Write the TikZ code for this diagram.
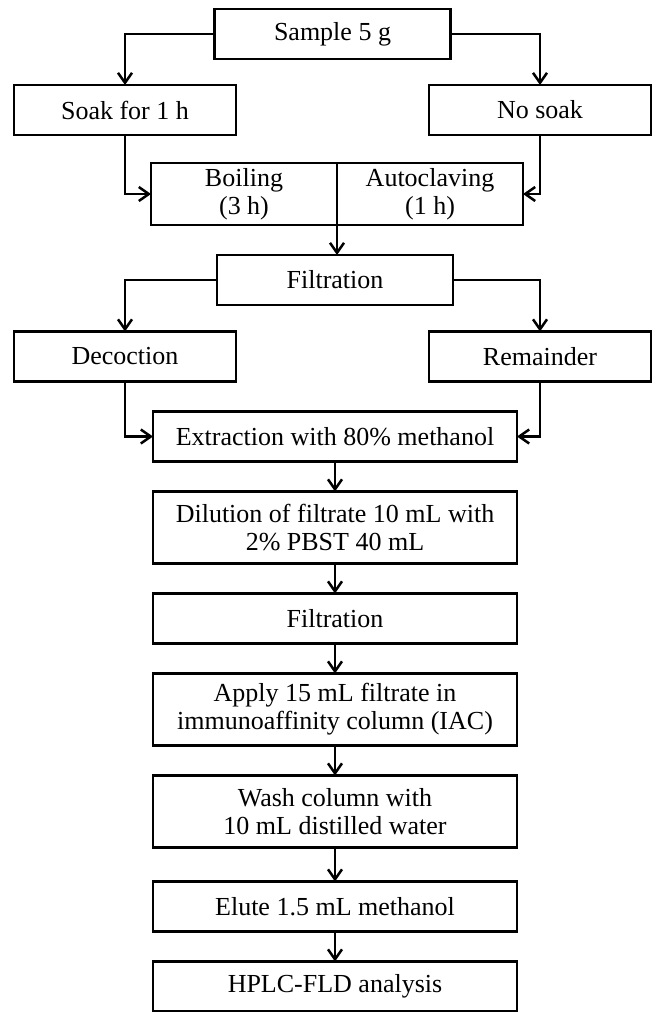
\documentclass[tikz,border=0pt]{standalone}
\usepackage{fontspec}
\setmainfont{Liberation Serif}
\usetikzlibrary{arrows.meta}
\usetikzlibrary{positioning}

\begin{document}
\begin{tikzpicture}[x=0.5pt,y=-0.5pt,
box/.style={draw,line width=1.25pt,align=center,inner sep=0pt,outer sep=0pt,
  minimum width=182pt,minimum height=25pt,font=\fontsize{13}{14}\selectfont},
tall/.style={minimum height=36pt},
topbox/.style={box,minimum width=118pt},
sidebox/.style={box,minimum width=111pt},
half/.style={box,minimum width=93pt,minimum height=31pt},
arr/.style={line width=1.25pt,-{Straight Barb[length=5pt,width=7pt]}},
node distance=15pt]
\useasboundingbox (0,0) rectangle (656,1012);
\node[topbox] (smp) at (332.5,34) {Sample 5 g};
\node[sidebox] (soak) at (125,110) {Soak for 1 h};
\node[sidebox] (nosk) at (540,110) {No soak};
\node[half] (boil) at (244,194) {Boiling\\(3 h)};
\node[half,right=0pt of boil] (auto) {Autoclaving\\(1 h)};
\node[topbox] (filt) at (335,280) {Filtration};
\node[sidebox] (dec) at (125,356.5) {Decoction};
\node[sidebox] (rem) at (540,356.5) {Remainder};
\node[box] (ext) at (335,436.5) {Extraction with 80\% methanol};
\node[box,tall,below=of ext] (dil) {Dilution of filtrate 10 mL with\\2\% PBST 40 mL};
\node[box,below=of dil] (filt2) {Filtration};
\node[box,tall,below=of filt2] (iac) {Apply 15 mL filtrate in\\immunoaffinity column (IAC)};
\node[box,tall,below=of iac] (wash) {Wash column with\\10 mL distilled water};
\node[box,below=17pt of wash] (elu) {Elute 1.5 mL methanol};
\node[box,below=of elu] (hplc) {HPLC-FLD analysis};
\draw[arr] (smp.west) -| (soak.north);
\draw[arr] (smp.east) -| (nosk.north);
\draw[arr] (soak.south) |- (boil.west);
\draw[arr] (nosk.south) |- (auto.east);
\draw[arr] (boil.south east) -- (boil.south east |- filt.north);
\draw[arr] (filt.west) -| (dec.north);
\draw[arr] (filt.east) -| (rem.north);
\draw[arr] (dec.south) |- (ext.west);
\draw[arr] (rem.south) |- (ext.east);
\draw[arr] (ext) -- (dil);
\draw[arr] (dil) -- (filt2);
\draw[arr] (filt2) -- (iac);
\draw[arr] (iac) -- (wash);
\draw[arr] (wash) -- (elu);
\draw[arr] (elu) -- (hplc);
\end{tikzpicture}
\end{document}
